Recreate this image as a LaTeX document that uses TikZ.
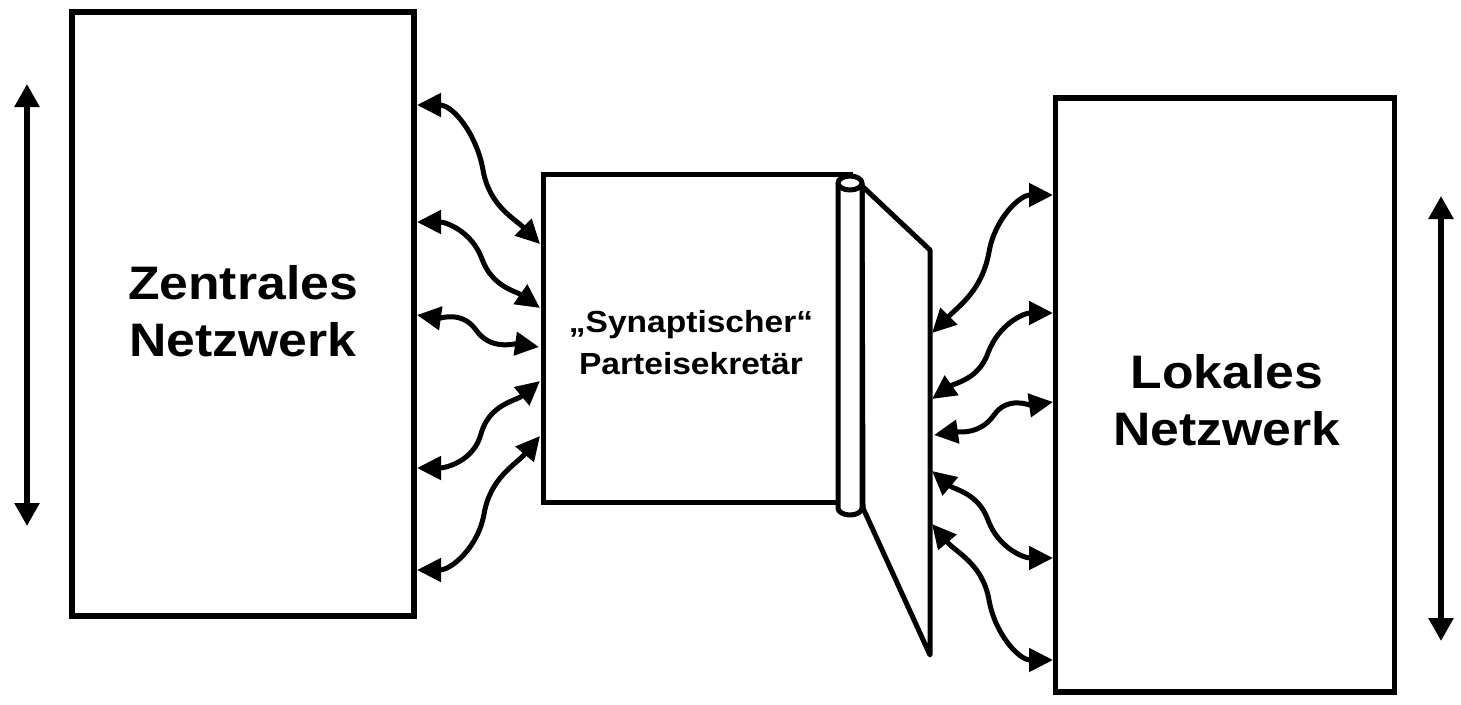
\documentclass[tikz,border=0pt]{standalone}
\usepackage{fontspec}
\setmainfont{Liberation Sans}
\newfontfamily\labfont[FakeStretch=1.1]{Liberation Sans}
\usetikzlibrary{arrows.meta}
\begin{document}
\begin{tikzpicture}[x=1pt,y=-1pt,
  box/.style={draw, line width=5.5pt, fill=white, inner sep=0pt, outer sep=0pt},
  con/.style={line width=5pt, {Triangle[length=24pt,width=23pt]}-{Triangle[length=24pt,width=23pt]}},
  vert/.style={line width=5.5pt, {Triangle[length=23pt,width=24pt]}-{Triangle[length=23pt,width=24pt]}},
  bigtext/.style={font=\labfont\bfseries\fontsize{47}{57}\selectfont, align=center, inner sep=0pt},
  midtext/.style={font=\labfont\bfseries\fontsize{30.5}{42}\selectfont, align=center, inner sep=0pt},
  part/.style={draw, line width=5pt, fill=white, line join=round}]
\useasboundingbox (0,0) rectangle (1461,704);

% boxes
\node[box, minimum width=342pt, minimum height=604pt] (Z) at (243,314) {};
\node[box, minimum width=339pt, minimum height=594pt] (L) at (1225,395) {};
\node[box, line width=5pt, minimum width=307pt, minimum height=328pt] (S) at (696.5,338) {};

% door and roller
\draw[part] (862,186) -- (930,250) -- (930,655) -- (863,508) -- cycle;
\draw[part] (838,183) -- (838,508) arc[start angle=180,end angle=0,x radius=12,y radius=7] -- (862,183);
\draw[part] (850,183) ellipse[x radius=12, y radius=7];

% texts
\node[bigtext] (zt) at (243,311) {Zentrales\\Netzwerk};
\node[bigtext] (lt) at (1227,400) {Lokales\\Netzwerk};
\node[midtext] (st) at (691,342.5) {„Synaptischer“\\Parteisekretär};

% vertical arrows
\coordinate (va1) at (27,84);
\coordinate (va2) at (27,526);
\coordinate (vb1) at (1441,196);
\coordinate (vb2) at (1441,641);
\draw[vert] (va1) -- (va2);
\draw[vert] (vb1) -- (vb2);

% left connectors
\coordinate (l1) at (417,105);  \coordinate (r1) at (540,244);
\coordinate (l2) at (417,222);  \coordinate (r2) at (540,308);
\coordinate (l3) at (417,315);  \coordinate (r3) at (539,347);
\coordinate (l4) at (417,468);  \coordinate (r4) at (540,381);
\coordinate (l5) at (417,570);  \coordinate (r5) at (540,436);
\coordinate (m1) at (483,170);
\coordinate (m2) at (482,259);
\coordinate (m3) at (476,330);
\coordinate (m4) at (481,434);
\coordinate (m5) at (484,514);
\draw[con] (l1) to[out=0,in=100] (m1) to[out=-80,in=135] (r1);
\draw[con] (l2) to[out=0,in=110] (m2) to[out=-70,in=145] (r2);
\draw[con] (l3) to[out=-8,in=125] (m3) to[out=-55,in=172] (r3);
\draw[con] (l4) to[out=0,in=-105] (m4) to[out=75,in=-140] (r4);
\draw[con] (l5) to[out=0,in=-100] (m5) to[out=80,in=-130] (r5);

% right connectors
\coordinate (a1) at (1053,195);  \coordinate (b1) at (932,333);
\coordinate (a2) at (1053,313);  \coordinate (b2) at (932,399);
\coordinate (a3) at (1053,402);  \coordinate (b3) at (934,435);
\coordinate (a4) at (1053,558);  \coordinate (b4) at (932,471);
\coordinate (a5) at (1053,660);  \coordinate (b5) at (932,524);
\coordinate (n1) at (989,252);
\coordinate (n2) at (988,353);
\coordinate (n3) at (994,415);
\coordinate (n4) at (988,520);
\coordinate (n5) at (989,600);
\draw[con] (b1) to[out=45,in=-100] (n1) to[out=80,in=180] (a1);
\draw[con] (b2) to[out=35,in=-110] (n2) to[out=70,in=180] (a2);
\draw[con] (b3) to[out=8,in=-125] (n3) to[out=55,in=188] (a3);
\draw[con] (b4) to[out=-40,in=110] (n4) to[out=-70,in=180] (a4);
\draw[con] (b5) to[out=-50,in=100] (n5) to[out=-80,in=180] (a5);
\end{tikzpicture}
\end{document}
